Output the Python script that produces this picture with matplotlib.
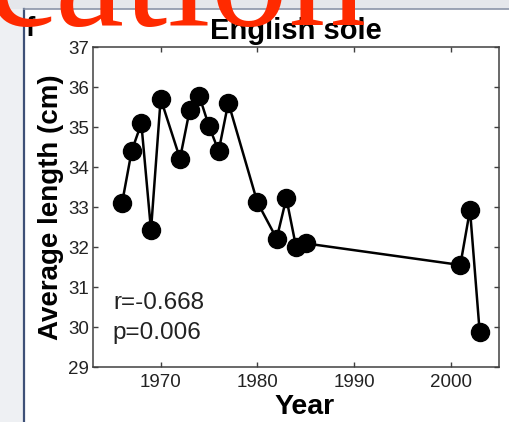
import matplotlib
matplotlib.use("Agg")
import matplotlib.pyplot as plt
from matplotlib.patches import Rectangle
from matplotlib.lines import Line2D

plt.rcParams["font.family"] = "Liberation Sans"

# English sole survey: mean length by year
years = [1966, 1967, 1968, 1969, 1970, 1972, 1973, 1974, 1975, 1976, 1977,
         1980, 1982, 1983, 1984, 1985, 2001, 2002, 2003]
avg_length = [33.09, 34.40, 35.09, 32.42, 35.71, 34.21, 35.42, 35.77, 35.02,
              34.40, 35.61, 33.12, 32.21, 33.22, 32.01, 32.09, 31.55, 32.93,
              29.88]
x_ticks = [1970, 1980, 1990, 2000]
y_ticks = list(range(29, 38))
r_value = "-0.668"
p_value = "0.006"

W, H = 509, 422
fig = plt.figure(figsize=(W / 100, H / 100), dpi=100)
fig.patch.set_facecolor("white")

# slide frame behind the panel
fig.add_artist(Rectangle((0, 0), 24 / W, 1, transform=fig.transFigure,
                         facecolor="#eef0f3", edgecolor="none", zorder=0))
fig.add_artist(Rectangle((0, 1 - 9 / H), 1, 9 / H, transform=fig.transFigure,
                         facecolor="#e5e7eb", edgecolor="none", zorder=0))
fig.add_artist(Line2D([24 / W, 24 / W], [0, 1 - 9 / H], transform=fig.transFigure,
                      color="#3e5077", lw=1.6, zorder=1))
fig.add_artist(Line2D([24 / W, 1], [1 - 9 / H, 1 - 9 / H], transform=fig.transFigure,
                      color="#8c95a8", lw=1.2, zorder=1))

ax = fig.add_axes([93 / W, 1 - 367 / H, 406 / W, 320 / H])
ax.plot(years, avg_length, color="black", lw=1.8, marker="o",
        markersize=13, markerfacecolor="black", markeredgecolor="black")

ax.set_xlim(1963, 2005)
ax.set_ylim(29, 37)
ax.set_xticks(x_ticks)
ax.set_yticks(y_ticks)
ax.tick_params(direction="in", length=3.5, width=1, top=True, right=True,
               labelsize=13.5, labelcolor="#222222", color="#404040")
ax.tick_params(axis="x", pad=5)
ax.tick_params(axis="y", pad=3)
for spine in ax.spines.values():
    spine.set_color("#404040")
    spine.set_linewidth(1.1)

ax.set_xlabel("Year", fontsize=20.5, fontweight="bold", labelpad=1)
ax.xaxis.set_label_coords(0.52, -0.085)
ax.set_ylabel("Average length (cm)", fontsize=20, fontweight="bold", labelpad=3)
ax.set_title("English sole", fontsize=21, fontweight="bold", pad=6)

ax.text(0.049, 0.181, f"r={r_value}", transform=ax.transAxes,
        fontsize=17.5, color="#222222", va="baseline")
ax.text(0.049, 0.0875, f"p={p_value}", transform=ax.transAxes,
        fontsize=17.5, color="#222222", va="baseline")

# panel letter and the slide heading running over the top edge
fig.text(25 / W, 1 - 36 / H, "f", fontsize=20, fontweight="bold",
         va="baseline", zorder=2)
fig.text(-14 / W, 1 - 25 / H, "cation", family="Liberation Serif",
         fontsize=112, color="#ff2a00", va="baseline", ha="left", zorder=5)

fig.savefig("out.png", dpi=100)
